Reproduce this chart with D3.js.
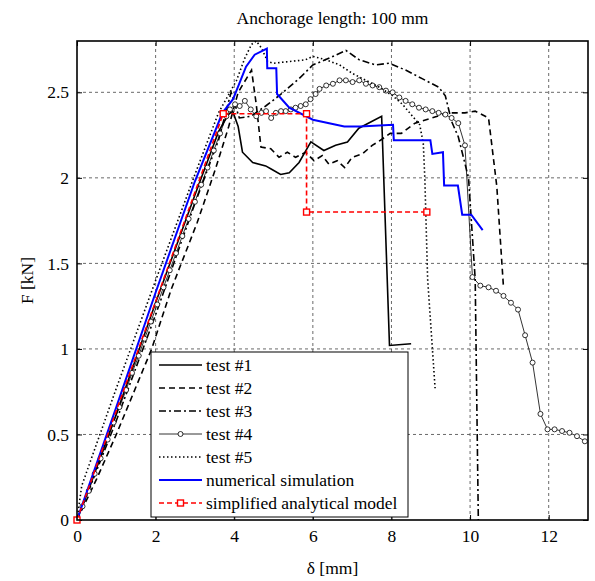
<!DOCTYPE html>
<html>
<head>
<meta charset="utf-8">
<script src="https://cdn.jsdelivr.net/npm/d3@7"></script>
<style>
  body { margin: 0; background: #fff; }
  text { font-family: "Liberation Serif", "Times New Roman", serif; fill: #000; }
</style>
</head>
<body>
<svg width="595" height="581"></svg>
<script>
var xTicks = [0, 2, 4, 6, 8, 10, 12];
var yTicks = [0, 0.5, 1, 1.5, 2, 2.5];

var test1 = [[0,0],[1,0.62],[2,1.27],[3,1.9],[3.6,2.27],[3.85,2.37],[3.96,2.39],[4.1,2.3],[4.21,2.15],[4.47,2.09],[4.8,2.07],[4.95,2.05],[5.18,2.02],[5.4,2.03],[5.65,2.09],[5.95,2.21],[6.28,2.16],[6.58,2.19],[6.88,2.21],[7.17,2.29],[7.75,2.36],[7.95,1.02],[8.5,1.03]];

var test2 = [[0,0],[0.5,0.24],[1,0.5],[1.9,1.0],[2.4,1.35],[3.06,1.74],[3.52,2.05],[3.86,2.3],[4.1,2.5],[4.44,2.63],[4.56,2.43],[4.68,2.18],[4.93,2.17],[5.14,2.12],[5.35,2.15],[5.56,2.12],[5.82,2.15],[6.03,2.1],[6.24,2.13],[6.41,2.08],[6.62,2.1],[6.81,2.06],[7.0,2.12],[7.26,2.14],[7.51,2.19],[7.72,2.22],[7.97,2.26],[8.25,2.26],[8.6,2.32],[9.02,2.35],[9.45,2.38],[9.87,2.38],[10.13,2.39],[10.47,2.35],[10.68,1.95],[10.85,1.36]];

var test3 = [[0,0],[1,0.58],[2,1.2],[3,1.85],[3.6,2.22],[3.92,2.5],[4.13,2.35],[4.42,2.36],[4.8,2.42],[5.14,2.48],[5.65,2.58],[6.0,2.66],[6.42,2.7],[6.84,2.745],[7.18,2.69],[7.6,2.66],[7.94,2.67],[8.36,2.63],[8.78,2.58],[9.2,2.53],[9.37,2.48],[9.53,2.33],[9.7,2.24],[9.96,2.0],[10.13,1.41],[10.21,0]];

var test4 = [[0,0],[0.14,0.08],[0.3,0.17],[0.45,0.27],[0.6,0.36],[0.78,0.47],[0.93,0.57],[1.08,0.66],[1.25,0.76],[1.4,0.86],[1.57,0.96],[1.72,1.06],[1.88,1.16],[2.04,1.26],[2.2,1.36],[2.36,1.46],[2.52,1.56],[2.68,1.66],[2.84,1.76],[3.0,1.86],[3.16,1.96],[3.32,2.06],[3.48,2.16],[3.64,2.26],[3.8,2.36],[3.89,2.4],[4.02,2.43],[4.14,2.42],[4.27,2.45],[4.42,2.4],[4.56,2.36],[4.69,2.38],[4.81,2.39],[4.94,2.35],[5.06,2.38],[5.19,2.39],[5.31,2.39],[5.44,2.4],[5.56,2.41],[5.69,2.42],[5.82,2.43],[5.94,2.46],[6.07,2.49],[6.17,2.52],[6.34,2.54],[6.51,2.55],[6.68,2.57],[6.84,2.57],[7.01,2.56],[7.18,2.57],[7.35,2.55],[7.52,2.54],[7.69,2.53],[7.86,2.51],[8.03,2.5],[8.2,2.47],[8.36,2.45],[8.53,2.43],[8.7,2.41],[8.87,2.4],[9.04,2.39],[9.2,2.38],[9.37,2.37],[9.53,2.35],[9.7,2.32],[9.87,2.19],[10.06,1.42],[10.26,1.37],[10.47,1.36],[10.66,1.34],[10.85,1.31],[11.04,1.27],[11.22,1.23],[11.4,1.08],[11.59,0.92],[11.79,0.62],[11.97,0.53],[12.15,0.53],[12.34,0.52],[12.53,0.51],[12.72,0.49],[12.92,0.46]];

var test5 = [[0,0],[0.12,0.2],[1,0.77],[2,1.4],[3,2.02],[3.6,2.38],[4.06,2.57],[4.27,2.7],[4.44,2.78],[4.56,2.8],[4.69,2.76],[4.85,2.68],[5.0,2.67],[5.4,2.68],[5.81,2.69],[6.0,2.71],[6.34,2.69],[6.68,2.66],[7.01,2.61],[7.35,2.57],[7.69,2.53],[8.03,2.48],[8.28,2.43],[8.5,2.37],[8.72,2.31],[8.81,2.2],[8.85,1.99],[8.92,1.41],[9.11,0.77]];

var numerical = [[0,0],[1,0.66],[2,1.33],[3,1.98],[3.7,2.38],[3.97,2.46],[4.3,2.65],[4.52,2.72],[4.83,2.755],[4.84,2.64],[5.07,2.64],[5.09,2.49],[5.4,2.41],[6.0,2.34],[6.8,2.3],[7.2,2.3],[8.04,2.31],[8.06,2.22],[8.99,2.22],[9.04,2.14],[9.31,2.15],[9.34,1.955],[9.69,1.955],[9.8,1.785],[10.03,1.785],[10.32,1.695]];

var analytical = [[0,0],[3.72,2.375],[5.84,2.375],[5.84,1.8],[8.9,1.8]];

var labels = ["test #1", "test #2", "test #3", "test #4", "test #5", "numerical simulation", "simplified analytical model"];

var svg = d3.select("svg"),
    margin = {left: 77, right: 7, top: 41, bottom: 61},
    width = 595 - margin.left - margin.right,
    height = 581 - margin.top - margin.bottom;

var x = d3.scaleLinear().domain([0, 13]).range([margin.left, margin.left + width]);
var y = d3.scaleLinear().domain([0, 2.8]).range([margin.top + height, margin.top]);

// grid
svg.append("g").selectAll("line").data(xTicks.slice(1)).enter().append("line")
    .attr("x1", function(d) { return x(d); }).attr("x2", function(d) { return x(d); })
    .attr("y1", y(0)).attr("y2", y(2.8))
    .attr("stroke", "#444").attr("stroke-width", 0.8).attr("stroke-dasharray", "3,3");
svg.append("g").selectAll("line").data(yTicks.slice(1)).enter().append("line")
    .attr("y1", function(d) { return y(d); }).attr("y2", function(d) { return y(d); })
    .attr("x1", x(0)).attr("x2", x(13))
    .attr("stroke", "#444").attr("stroke-width", 0.8).attr("stroke-dasharray", "3,3");

// axes, ticks pointing inward on all four sides
svg.append("g").attr("transform", "translate(0," + y(0) + ")")
    .call(d3.axisBottom(x).tickValues(xTicks).tickSize(-5).tickPadding(10).tickFormat(d3.format("")));
svg.append("g").attr("transform", "translate(" + x(0) + ",0)")
    .call(d3.axisLeft(y).tickValues(yTicks).tickSize(-5).tickPadding(8).tickFormat(d3.format("")));
svg.append("g").attr("transform", "translate(0," + y(2.8) + ")")
    .call(d3.axisTop(x).tickValues(xTicks).tickSize(-5).tickFormat(""));
svg.append("g").attr("transform", "translate(" + x(13) + ",0)")
    .call(d3.axisRight(y).tickValues(yTicks).tickSize(-5).tickFormat(""));
svg.selectAll(".domain").remove();
svg.selectAll(".tick line").attr("stroke", "#000");
svg.selectAll(".tick text").style("font-family", "Liberation Serif").style("font-size", "17.5px");

svg.append("clipPath").attr("id", "clip").append("rect")
    .attr("x", x(0)).attr("y", y(2.8)).attr("width", width).attr("height", height);

var line = d3.line().x(function(d) { return x(d[0]); }).y(function(d) { return y(d[1]); });
var plot = svg.append("g").attr("clip-path", "url(#clip)");

var styles = [
  {data: test1, color: "#000", w: 1.6, dash: null},
  {data: test2, color: "#000", w: 1.6, dash: "6,4"},
  {data: test3, color: "#000", w: 1.6, dash: "7,3,2,3"},
  {data: test4, color: "#000", w: 0.8, dash: null, circle: true},
  {data: test5, color: "#000", w: 1.6, dash: "1.5,2.5"},
  {data: numerical, color: "#0000ff", w: 2, dash: null},
  {data: analytical, color: "#ff0000", w: 1.6, dash: "5,3", square: true}
];

styles.forEach(function(s) {
  plot.append("path").datum(s.data)
      .attr("d", line).attr("fill", "none")
      .attr("stroke", s.color).attr("stroke-width", s.w)
      .attr("stroke-dasharray", s.dash);
  if (s.circle) {
    plot.selectAll(null).data(s.data.slice(1)).enter().append("circle")
        .attr("cx", function(d) { return x(d[0]); }).attr("cy", function(d) { return y(d[1]); })
        .attr("r", 2.5).attr("fill", "#fff").attr("stroke", "#000").attr("stroke-width", 0.8);
  }
});
svg.selectAll(null).data(analytical).enter().append("rect")
    .attr("x", function(d) { return x(d[0]) - 3; }).attr("y", function(d) { return y(d[1]) - 3; })
    .attr("width", 6).attr("height", 6)
    .attr("fill", "#fff").attr("stroke", "#ff0000").attr("stroke-width", 1.4);

// frame
svg.append("rect").attr("x", x(0)).attr("y", y(2.8)).attr("width", width).attr("height", height)
    .attr("fill", "none").attr("stroke", "#000").attr("stroke-width", 1.6);

// legend
var lg = svg.append("g");
lg.append("rect").attr("x", 151).attr("y", 352).attr("width", 257).attr("height", 165)
    .attr("fill", "#fff").attr("stroke", "#000").attr("stroke-width", 1);
styles.forEach(function(s, i) {
  var yy = 365 + i * 23;
  lg.append("line").attr("x1", 159).attr("x2", 202).attr("y1", yy).attr("y2", yy)
      .attr("stroke", s.color).attr("stroke-width", s.w).attr("stroke-dasharray", s.dash);
  if (s.circle) {
    lg.append("circle").attr("cx", 180.5).attr("cy", yy).attr("r", 2.5)
        .attr("fill", "#fff").attr("stroke", "#000").attr("stroke-width", 0.8);
  }
  if (s.square) {
    lg.append("rect").attr("x", 177.5).attr("y", yy - 3).attr("width", 6).attr("height", 6)
        .attr("fill", "#fff").attr("stroke", "#ff0000").attr("stroke-width", 1.4);
  }
  lg.append("text").attr("x", 206).attr("y", yy + 6).style("font-size", "17.5px").text(labels[i]);
});

// titles
svg.append("text").attr("x", (x(0) + x(13)) / 2).attr("y", 24).attr("text-anchor", "middle")
    .style("font-size", "17.5px").text("Anchorage length: 100 mm");
svg.append("text").attr("x", (x(0) + x(13)) / 2).attr("y", 574).attr("text-anchor", "middle")
    .style("font-size", "17.5px").text("δ [mm]");
svg.append("text").attr("transform", "translate(33," + y(1.4) + ") rotate(-90)").attr("text-anchor", "middle")
    .style("font-size", "17.5px").text("F [kN]");
</script>
</body>
</html>
